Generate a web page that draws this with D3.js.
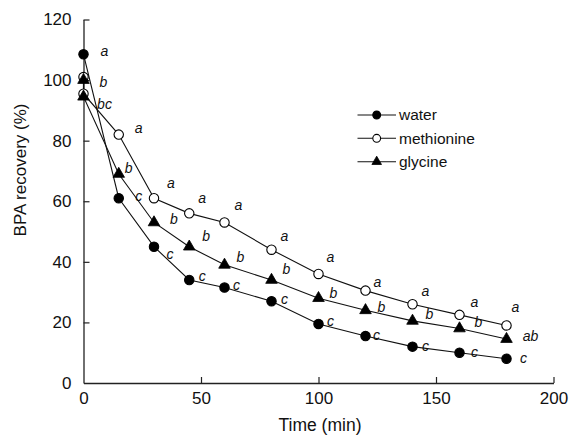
<!DOCTYPE html>
<html>
<head>
<meta charset="utf-8">
<script src="https://cdn.jsdelivr.net/npm/d3@7"></script>
<style>
  html, body { margin: 0; padding: 0; background: #fff; }
  svg { display: block; font-family: "Liberation Sans", Arial, Helvetica, sans-serif; }
</style>
</head>
<body>
<svg id="chart" width="570" height="436"></svg>
<script>
// ---- data ----
const timeWater = [0, 15, 30, 45, 60, 80, 100, 120, 140, 160, 180];
const water = [108.5, 61, 45, 34, 31.5, 27, 19.5, 15.5, 12, 10, 8];
const lettersWater = ["a", "c", "c", "c", "c", "c", "c", "c", "c", "c", "c"];

const timeAmino = [0, 0, 15, 30, 45, 60, 80, 100, 120, 140, 160, 180];
const methionine = [101, 95.5, 82, 61, 56, 53, 44, 36, 30.5, 26, 22.5, 19];
const lettersMethionine = ["", "bc", "a", "a", "a", "a", "a", "a", "a", "a", "a", "a"];
const glycine = [100, 94.5, 69, 53, 45, 39, 34, 28, 24, 20.5, 18, 14.5];
const lettersGlycine = ["b", "", "b", "b", "b", "b", "b", "b", "b", "b", "b", "ab"];

const seriesNames = ["water", "methionine", "glycine"];
const xTicks = [0, 50, 100, 150, 200];
const yTicks = [0, 20, 40, 60, 80, 100, 120];

// ---- layout (label nudges in pixels, kept apart from data) ----
const nudgeWater = [[21,-3],[20,-2],[16,7],[13,-4],[12,-2],[13,-2],[12,-3],[11,-1],[13,-1],[15,-1],[17,-1]];
const nudgeMethionine = [[0,0],[21,10],[20,-7],[17,-15],[13,-15],[14,-17],[13,-14],[12,-17],[12,-9],[13,-13],[15,-13],[9,-18]];
const nudgeGlycine = [[20,2],[0,0],[10,-6],[20,-3],[17,-11],[16,-8],[15,-11],[15,-5],[16,-3],[17,-7],[19,-6],[24,-3]];

const svg = d3.select("#chart");
const x = d3.scaleLinear().domain([0, 200]).range([83.5, 553.5]);
const y = d3.scaleLinear().domain([0, 120]).range([383, 19.5]);

// axes
const xAxis = d3.axisBottom(x).tickValues(xTicks).tickSizeInner(-6).tickSizeOuter(0).tickPadding(9);
const yAxis = d3.axisLeft(y).tickValues(yTicks).tickSizeInner(-6).tickSizeOuter(0).tickPadding(12);

const gx = svg.append("g").attr("transform", "translate(0,383)").call(xAxis);
const gy = svg.append("g").attr("transform", "translate(83.5,0)").call(yAxis);
[gx, gy].forEach(g => {
  g.select(".domain").attr("stroke", "#222").attr("stroke-width", 1.3);
  g.selectAll(".tick line").attr("stroke", "#222").attr("stroke-width", 1.2);
  g.selectAll(".tick text").attr("fill", "#111").style("font-size", "17px")
    .style("font-family", "'Liberation Sans', Arial, sans-serif");
});
gy.selectAll(".tick").filter(d => d === 0).select("line").remove();
gx.selectAll(".tick").filter(d => d === 0).select("line").remove();

// titles
svg.append("text").attr("x", 320).attr("y", 431).attr("text-anchor", "middle")
  .style("font-size", "17.5px").attr("fill", "#111").text("Time (min)");
svg.append("text").attr("transform", "translate(26,170) rotate(-90)").attr("text-anchor", "middle")
  .style("font-size", "17px").attr("fill", "#111").text("BPA recovery (%)");

const series = [
  { name: seriesNames[0], t: timeWater, v: water, letters: lettersWater, nudge: nudgeWater, marker: "circle", fill: "#000" },
  { name: seriesNames[1], t: timeAmino, v: methionine, letters: lettersMethionine, nudge: nudgeMethionine, marker: "circle", fill: "#fff" },
  { name: seriesNames[2], t: timeAmino, v: glycine, letters: lettersGlycine, nudge: nudgeGlycine, marker: "triangle", fill: "#000" }
];

const line = d3.line().x(d => x(d[0])).y(d => y(d[1]));
const triPath = d3.symbol().type(d3.symbolTriangle).size(58)();
const triPathSmall = d3.symbol().type(d3.symbolTriangle).size(40)();

function drawMarker(g, s, cx, cy, small) {
  if (s.marker === "circle") {
    g.append("circle").attr("cx", cx).attr("cy", cy).attr("r", small ? 3.9 : 4.7)
      .attr("fill", s.fill).attr("stroke", "#000").attr("stroke-width", 1.1);
  } else {
    g.append("path").attr("d", small ? triPathSmall : triPath)
      .attr("transform", `translate(${cx},${cy})`).attr("fill", s.fill).attr("stroke", "#000").attr("stroke-width", 0.8);
  }
}

// lines first
series.forEach(s => {
  const pts = s.t.map((t, i) => [t, s.v[i]]);
  svg.append("path").datum(pts).attr("d", line).attr("fill", "none").attr("stroke", "#111").attr("stroke-width", 1.1);
});
// markers
series.forEach(s => {
  const g = svg.append("g");
  s.t.forEach((t, i) => drawMarker(g, s, x(t), y(s.v[i]), false));
});
// letters
series.forEach(s => {
  s.t.forEach((t, i) => {
    if (!s.letters[i]) return;
    svg.append("text").attr("x", x(t) + s.nudge[i][0]).attr("y", y(s.v[i]) + s.nudge[i][1])
      .attr("dy", "0.35em").attr("text-anchor", "middle").style("font-style", "italic")
      .style("font-size", "14px").attr("fill", "#111").text(s.letters[i]);
  });
});

// legend
const legendY = [115, 138.3, 161.7];
series.forEach((s, i) => {
  const g = svg.append("g");
  g.append("line").attr("x1", 357.5).attr("x2", 396).attr("y1", legendY[i]).attr("y2", legendY[i])
    .attr("stroke", "#111").attr("stroke-width", 1.1);
  drawMarker(g, s, 376.7, legendY[i], true);
  g.append("text").attr("x", 399).attr("y", legendY[i]).attr("dy", "0.35em")
    .style("font-size", "15.5px").attr("fill", "#111").text(s.name);
});
</script>
</body>
</html>
